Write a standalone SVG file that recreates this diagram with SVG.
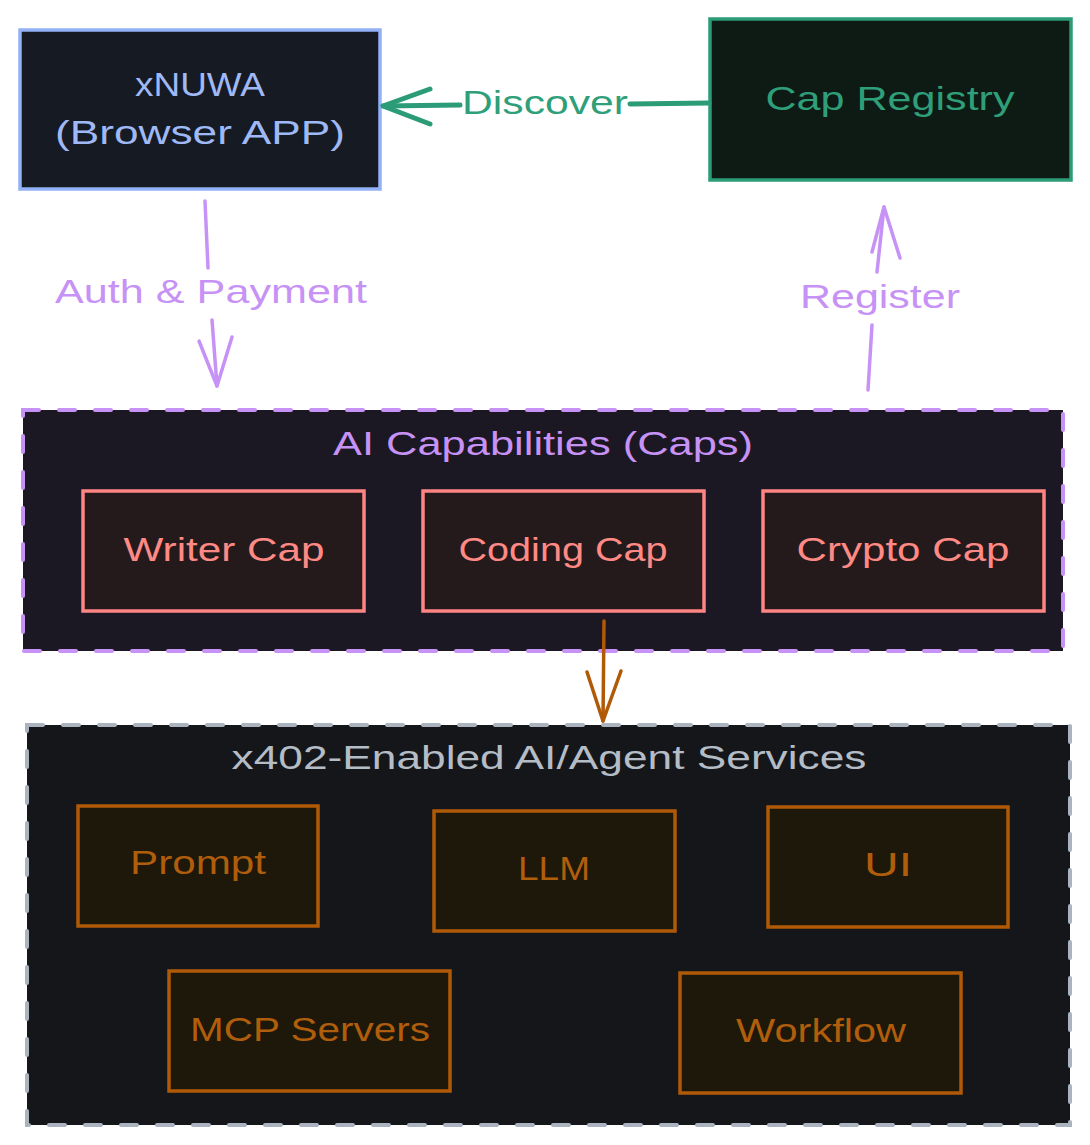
<svg xmlns="http://www.w3.org/2000/svg" width="1090" height="1145" viewBox="0 0 1090 1145">
<style>
text{font-family:"Liberation Sans","DejaVu Sans",sans-serif;text-anchor:middle;dominant-baseline:central;}
.t{font-size:34px;}
.line{fill:none;stroke-linecap:round;stroke-linejoin:round;}
.blue{fill:#151a23;stroke:#93b1f7;stroke-width:3.5;}
.blueT{fill:#9fb8f6;}
.green{fill:#0d1b14;stroke:#2b9c77;stroke-width:3.5;}
.greenT{fill:#2f9f7a;}
.purpT{fill:#c792f5;}
.capbox{fill:#251a1b;stroke:#ff8585;stroke-width:3.5;}
.capT{fill:#ff8a85;}
.svcbox{fill:#1d1809;stroke:#b05a08;stroke-width:3.5;}
.svcT{fill:#b05d0c;}
.grpP{fill:#1b1823;stroke:#c792f5;stroke-width:4;stroke-dasharray:16 20;stroke-linecap:round;}
.grpG{fill:#151619;stroke:#abb3be;stroke-width:4;stroke-dasharray:16 20;stroke-linecap:round;}
</style>
<rect width="1090" height="1145" fill="#ffffff"/>

<g id="xnuwa">
<rect class="blue" x="20" y="30" width="360" height="159"/>
<text class="t blueT" x="200" y="84" textLength="130" lengthAdjust="spacingAndGlyphs">xNUWA</text>
<text class="t blueT" x="200" y="132" textLength="290" lengthAdjust="spacingAndGlyphs">(Browser APP)</text>
</g>

<g id="cap-registry">
<rect class="green" x="710" y="19" width="361" height="161"/>
<text class="t greenT" x="890" y="98" textLength="249" lengthAdjust="spacingAndGlyphs">Cap Registry</text>
</g>

<g id="ai-caps">
<rect class="grpP" x="23" y="410" width="1040" height="241"/>
<text class="t purpT" x="543" y="443" textLength="420" lengthAdjust="spacingAndGlyphs">AI Capabilities (Caps)</text>
</g>
<g id="writer-cap">
<rect class="capbox" x="83" y="491" width="281" height="120"/>
<text class="t capT" x="224" y="549" textLength="201" lengthAdjust="spacingAndGlyphs">Writer Cap</text>
</g>
<g id="coding-cap">
<rect class="capbox" x="423" y="491" width="281" height="120"/>
<text class="t capT" x="563" y="549" textLength="209" lengthAdjust="spacingAndGlyphs">Coding Cap</text>
</g>
<g id="crypto-cap">
<rect class="capbox" x="763" y="491" width="281" height="120"/>
<text class="t capT" x="903" y="549" textLength="213" lengthAdjust="spacingAndGlyphs">Crypto Cap</text>
</g>

<g id="x402-services">
<rect class="grpG" x="27" y="725" width="1043" height="400"/>
<text class="t" fill="#b4bcc6" x="549" y="757" textLength="635" lengthAdjust="spacingAndGlyphs">x402-Enabled AI/Agent Services</text>
</g>
<g id="prompt">
<rect class="svcbox" x="78" y="806" width="240" height="120"/>
<text class="t svcT" x="198" y="862" textLength="136" lengthAdjust="spacingAndGlyphs">Prompt</text>
</g>
<g id="llm">
<rect class="svcbox" x="434" y="811" width="241" height="120"/>
<text class="t svcT" x="554" y="868" textLength="72" lengthAdjust="spacingAndGlyphs">LLM</text>
</g>
<g id="ui">
<rect class="svcbox" x="768" y="807" width="240" height="120"/>
<text class="t svcT" x="888" y="864" textLength="48" lengthAdjust="spacingAndGlyphs">UI</text>
</g>
<g id="mcp-servers">
<rect class="svcbox" x="169" y="971" width="281" height="120"/>
<text class="t svcT" x="310" y="1029" textLength="240" lengthAdjust="spacingAndGlyphs">MCP Servers</text>
</g>
<g id="workflow">
<rect class="svcbox" x="680" y="973" width="281" height="120"/>
<text class="t svcT" x="821" y="1030" textLength="170" lengthAdjust="spacingAndGlyphs">Workflow</text>
</g>

<g id="connectors">
<g stroke="#2b9c77" stroke-width="5" class="line">
<path d="M709 103 L630 104"/>
<path d="M460 105 L383 106"/>
<path d="M430 89 L383 106 L430 124"/>
</g>
<text class="t greenT" x="545" y="102" textLength="166" lengthAdjust="spacingAndGlyphs">Discover</text>

<g stroke="#c792f5" stroke-width="3.5" class="line">
<path d="M205 201 L208 268"/>
<path d="M212 320 L217 386"/>
<path d="M199 341 L217 386 L232 337"/>
</g>
<text class="t purpT" x="211" y="291" textLength="312" lengthAdjust="spacingAndGlyphs">Auth &amp; Payment</text>

<g stroke="#c792f5" stroke-width="3.5" class="line">
<path d="M868 390 L872 325"/>
<path d="M877 272 L884 207"/>
<path d="M872 252 L884 207 L900 258"/>
</g>
<text class="t purpT" x="880" y="296" textLength="160" lengthAdjust="spacingAndGlyphs">Register</text>

<g stroke="#b05a08" stroke-width="3.5" class="line">
<path d="M604 621 L603 721"/>
<path d="M587 672 L603 721 L621 671"/>
</g>
</g>
</svg>
